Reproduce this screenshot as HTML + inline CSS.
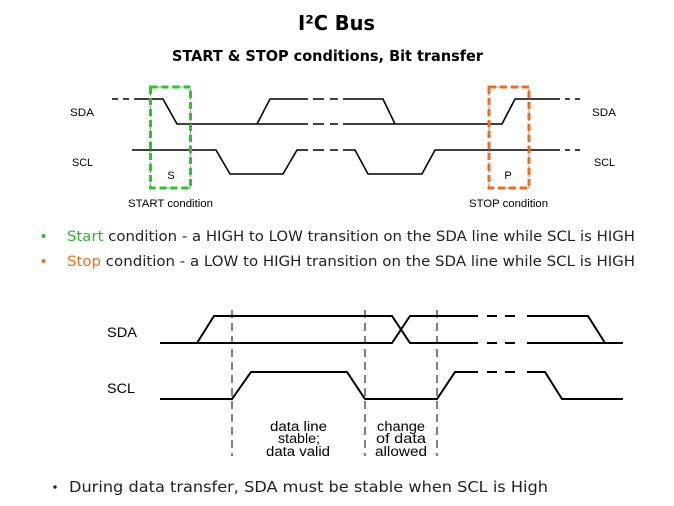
<!DOCTYPE html>
<html><head><meta charset="utf-8"><style>
html,body{margin:0;padding:0;background:#fff;}
svg{display:block;}
</style></head><body>
<svg width="674" height="506" viewBox="0 0 674 506" xmlns="http://www.w3.org/2000/svg">
<rect width="674" height="506" fill="#fff"/>
<!-- Titles -->
<text x="298" y="30" font-family="'DejaVu Sans',Verdana,sans-serif" font-weight="bold" font-size="20" fill="#000" textLength="77" lengthAdjust="spacingAndGlyphs">I²C Bus</text>
<text x="172" y="61" font-family="'DejaVu Sans',Verdana,sans-serif" font-weight="bold" font-size="15" fill="#000" textLength="311" lengthAdjust="spacingAndGlyphs">START &amp; STOP conditions,  Bit transfer</text>

<!-- Top diagram -->
<g fill="none" stroke="#000" stroke-width="1.6">
  <!-- SDA -->
  <path d="M112 99 H118 M123 99 H129"/>
  <path d="M134 99 H163 L177 124 H308"/>
  <path d="M313 124 H324 M330 124 H338"/>
  <path d="M343 124 H502 L515 99 H560"/>
  <path d="M565 99 H570 M575 99 H580"/>
  <path d="M257 124 L270 99 H308"/>
  <path d="M313 99 H324 M330 99 H338"/>
  <path d="M343 99 H383 L395 124"/>
  <!-- SCL -->
  <path d="M132 150 H216 L230 174 H283 L297 150 H308"/>
  <path d="M313 150 H324 M330 150 H338"/>
  <path d="M343 150 H355 L368 174 H422 L435 150 H560"/>
  <path d="M565 150 H570 M575 150 H580"/>
</g>
<!-- Start box -->
<rect x="150.5" y="87" width="40" height="101" fill="none" stroke="#777" stroke-width="0.8" stroke-dasharray="4 3"/>
<rect x="150.5" y="87" width="40" height="101" fill="none" stroke="#22cc22" stroke-width="3" stroke-dasharray="7 4"/>
<!-- Stop box -->
<rect x="489" y="87" width="40" height="101" fill="none" stroke="#777" stroke-width="0.8" stroke-dasharray="4 3"/>
<rect x="489" y="87" width="40" height="101" fill="none" stroke="#f26a1b" stroke-width="3" stroke-dasharray="7 4"/>

<g font-family="'Liberation Sans',Arial,sans-serif" font-size="11" fill="#000">
  <text x="70" y="116" textLength="24" lengthAdjust="spacingAndGlyphs">SDA</text>
  <text x="72" y="166" textLength="21" lengthAdjust="spacingAndGlyphs">SCL</text>
  <text x="592" y="116" textLength="24" lengthAdjust="spacingAndGlyphs">SDA</text>
  <text x="594" y="166" textLength="21" lengthAdjust="spacingAndGlyphs">SCL</text>
  <text x="171" y="179" text-anchor="middle">S</text>
  <text x="508" y="179" text-anchor="middle">P</text>
  <text x="128" y="207" textLength="85" lengthAdjust="spacingAndGlyphs">START condition</text>
  <text x="469" y="207" textLength="79" lengthAdjust="spacingAndGlyphs">STOP condition</text>
</g>

<!-- Bullets -->
<circle cx="43.5" cy="236" r="2" fill="#2db82d"/>
<circle cx="43.5" cy="261" r="2" fill="#f07020"/>
<text x="67" y="241" font-family="'DejaVu Sans',Verdana,sans-serif" font-size="14" fill="#222" textLength="568" lengthAdjust="spacingAndGlyphs"><tspan fill="#2db82d">Start</tspan> condition - a HIGH to LOW transition on the SDA line while SCL is HIGH</text>
<text x="67" y="266" font-family="'DejaVu Sans',Verdana,sans-serif" font-size="14" fill="#222" textLength="568" lengthAdjust="spacingAndGlyphs"><tspan fill="#f07020">Stop</tspan> condition - a LOW to HIGH transition on the SDA line while SCL is HIGH</text>

<!-- Bottom diagram -->
<g fill="none" stroke="#000" stroke-width="1" stroke-dasharray="8 5">
  <path d="M232 310 V456"/>
  <path d="M365 310 V456"/>
  <path d="M437 310 V456"/>
</g>
<g fill="none" stroke="#000" stroke-width="2">
  <!-- SDA -->
  <path d="M160 343 H392 L410 316 H478"/>
  <path d="M197 343 L214 316 H392 L410 343 H478"/>
  <path d="M487 316 H497 M505 316 H515"/>
  <path d="M487 343 H497 M505 343 H515"/>
  <path d="M527 316 H588 L605 343"/>
  <path d="M527 343 H623"/>
  <!-- SCL -->
  <path d="M160 399 H232 L251 372 H347 L365 399 H437 L455 372 H478"/>
  <path d="M487 372 H497 M505 372 H515"/>
  <path d="M527 372 H545 L562 399 H623"/>
</g>
<g font-family="'Liberation Sans',Arial,sans-serif" font-size="14" fill="#000">
  <text x="107" y="337" textLength="30" lengthAdjust="spacingAndGlyphs">SDA</text>
  <text x="107" y="393" textLength="28" lengthAdjust="spacingAndGlyphs">SCL</text>
</g>
<g font-family="'Liberation Sans',Arial,sans-serif" font-size="13.5" fill="#000">
  <text x="270" y="431" textLength="57" lengthAdjust="spacingAndGlyphs">data line</text>
  <text x="278" y="443" textLength="42" lengthAdjust="spacingAndGlyphs">stable;</text>
  <text x="266" y="456" textLength="64" lengthAdjust="spacingAndGlyphs">data valid</text>
  <text x="377" y="431" textLength="48" lengthAdjust="spacingAndGlyphs">change</text>
  <text x="376" y="443" textLength="50" lengthAdjust="spacingAndGlyphs">of data</text>
  <text x="375" y="456" textLength="52" lengthAdjust="spacingAndGlyphs">allowed</text>
</g>

<circle cx="55" cy="487" r="1.7" fill="#222"/>
<text x="69" y="492" font-family="'DejaVu Sans',Verdana,sans-serif" font-size="15" fill="#222" textLength="479" lengthAdjust="spacingAndGlyphs">During data transfer, SDA must be stable when SCL is High</text>
</svg>
</body></html>
